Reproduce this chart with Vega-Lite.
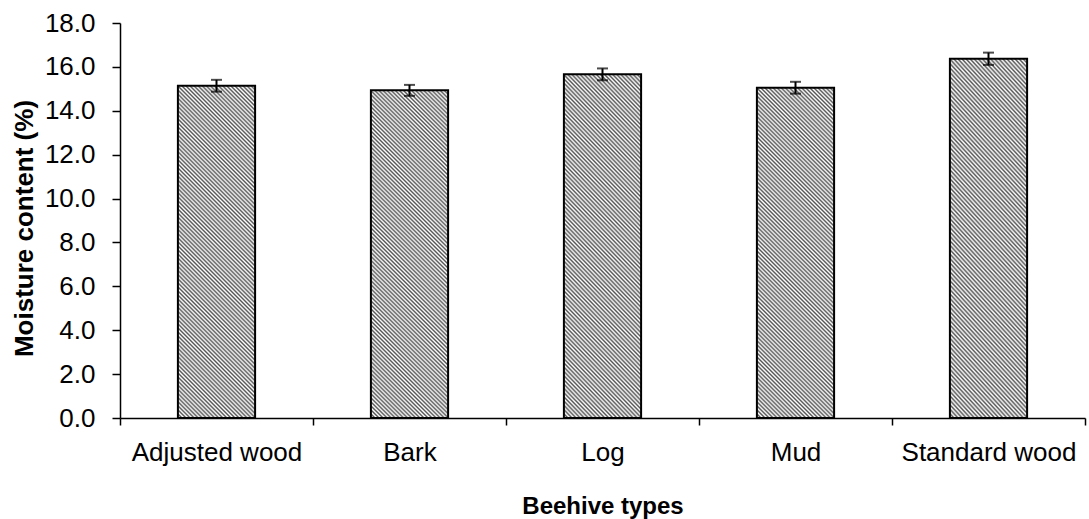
{
  "$schema": "https://vega.github.io/schema/vega-lite/v6.json",
  "width": 965,
  "height": 395,
  "autosize": "none",
  "padding": {"left": 120, "top": 23, "right": 4, "bottom": 101},
  "background": "white",
  "config": {
    "view": {"stroke": null},
    "font": "Liberation Sans",
    "axis": {
      "domainColor": "black",
      "tickColor": "black",
      "labelColor": "black",
      "titleColor": "black",
      "domainWidth": 1.5,
      "tickWidth": 1.5,
      "labelFont": "Liberation Sans",
      "titleFont": "Liberation Sans",
      "grid": false
    }
  },
  "data": {
    "values": [
      {"type": "Adjusted wood", "value": 15.14, "err": 0.27},
      {"type": "Bark", "value": 14.93, "err": 0.25},
      {"type": "Log", "value": 15.66, "err": 0.27},
      {"type": "Mud", "value": 15.05, "err": 0.27},
      {"type": "Standard wood", "value": 16.37, "err": 0.28}
    ]
  },
  "encoding": {
    "x": {
      "field": "type",
      "type": "nominal",
      "sort": null,
      "scale": {"paddingInner": 0, "paddingOuter": 0},
      "axis": {
        "title": "Beehive types",
        "labelAngle": 0,
        "tickBand": "extent",
        "tickSize": 7,
        "labelPadding": 35,
        "labelBaseline": "alphabetic",
        "labelFontSize": 26,
        "titleFontSize": 24,
        "titleFontWeight": "bold",
        "titleBaseline": "alphabetic",
        "titleY": 95
      }
    },
    "y": {
      "field": "value",
      "type": "quantitative",
      "scale": {"domain": [0, 18]},
      "axis": {
        "title": "Moisture content (%)",
        "values": [0, 2, 4, 6, 8, 10, 12, 14, 16, 18],
        "format": ".1f",
        "tickSize": 8,
        "labelPadding": 17,
        "labelFontSize": 26,
        "titleFontSize": 26,
        "titleFontWeight": "bold",
        "titleBaseline": "alphabetic",
        "titleX": -88,
        "titleY": 205
      }
    }
  },
  "layer": [
    {
      "mark": {
        "type": "bar",
        "width": {"band": 0.4},
        "stroke": "black",
        "strokeWidth": 2,
        "fill": {
          "gradient": "linear",
          "x1": 0, "y1": 1, "x2": 0.273, "y2": -0.17,
          "stops": [
{"offset":0,"color":"#555"},{"offset":0.005,"color":"#fff"},{"offset":0.01,"color":"#555"},{"offset":0.015,"color":"#fff"},{"offset":0.02,"color":"#555"},{"offset":0.025,"color":"#fff"},{"offset":0.03,"color":"#555"},{"offset":0.035,"color":"#fff"},{"offset":0.04,"color":"#555"},{"offset":0.045,"color":"#fff"},
{"offset":0.05,"color":"#555"},{"offset":0.055,"color":"#fff"},{"offset":0.06,"color":"#555"},{"offset":0.065,"color":"#fff"},{"offset":0.07,"color":"#555"},{"offset":0.075,"color":"#fff"},{"offset":0.08,"color":"#555"},{"offset":0.085,"color":"#fff"},{"offset":0.09,"color":"#555"},{"offset":0.095,"color":"#fff"},
{"offset":0.1,"color":"#555"},{"offset":0.105,"color":"#fff"},{"offset":0.11,"color":"#555"},{"offset":0.115,"color":"#fff"},{"offset":0.12,"color":"#555"},{"offset":0.125,"color":"#fff"},{"offset":0.13,"color":"#555"},{"offset":0.135,"color":"#fff"},{"offset":0.14,"color":"#555"},{"offset":0.145,"color":"#fff"},
{"offset":0.15,"color":"#555"},{"offset":0.155,"color":"#fff"},{"offset":0.16,"color":"#555"},{"offset":0.165,"color":"#fff"},{"offset":0.17,"color":"#555"},{"offset":0.175,"color":"#fff"},{"offset":0.18,"color":"#555"},{"offset":0.185,"color":"#fff"},{"offset":0.19,"color":"#555"},{"offset":0.195,"color":"#fff"},
{"offset":0.2,"color":"#555"},{"offset":0.205,"color":"#fff"},{"offset":0.21,"color":"#555"},{"offset":0.215,"color":"#fff"},{"offset":0.22,"color":"#555"},{"offset":0.225,"color":"#fff"},{"offset":0.23,"color":"#555"},{"offset":0.235,"color":"#fff"},{"offset":0.24,"color":"#555"},{"offset":0.245,"color":"#fff"},
{"offset":0.25,"color":"#555"},{"offset":0.255,"color":"#fff"},{"offset":0.26,"color":"#555"},{"offset":0.265,"color":"#fff"},{"offset":0.27,"color":"#555"},{"offset":0.275,"color":"#fff"},{"offset":0.28,"color":"#555"},{"offset":0.285,"color":"#fff"},{"offset":0.29,"color":"#555"},{"offset":0.295,"color":"#fff"},
{"offset":0.3,"color":"#555"},{"offset":0.305,"color":"#fff"},{"offset":0.31,"color":"#555"},{"offset":0.315,"color":"#fff"},{"offset":0.32,"color":"#555"},{"offset":0.325,"color":"#fff"},{"offset":0.33,"color":"#555"},{"offset":0.335,"color":"#fff"},{"offset":0.34,"color":"#555"},{"offset":0.345,"color":"#fff"},
{"offset":0.35,"color":"#555"},{"offset":0.355,"color":"#fff"},{"offset":0.36,"color":"#555"},{"offset":0.365,"color":"#fff"},{"offset":0.37,"color":"#555"},{"offset":0.375,"color":"#fff"},{"offset":0.38,"color":"#555"},{"offset":0.385,"color":"#fff"},{"offset":0.39,"color":"#555"},{"offset":0.395,"color":"#fff"},
{"offset":0.4,"color":"#555"},{"offset":0.405,"color":"#fff"},{"offset":0.41,"color":"#555"},{"offset":0.415,"color":"#fff"},{"offset":0.42,"color":"#555"},{"offset":0.425,"color":"#fff"},{"offset":0.43,"color":"#555"},{"offset":0.435,"color":"#fff"},{"offset":0.44,"color":"#555"},{"offset":0.445,"color":"#fff"},
{"offset":0.45,"color":"#555"},{"offset":0.455,"color":"#fff"},{"offset":0.46,"color":"#555"},{"offset":0.465,"color":"#fff"},{"offset":0.47,"color":"#555"},{"offset":0.475,"color":"#fff"},{"offset":0.48,"color":"#555"},{"offset":0.485,"color":"#fff"},{"offset":0.49,"color":"#555"},{"offset":0.495,"color":"#fff"},
{"offset":0.5,"color":"#555"},{"offset":0.505,"color":"#fff"},{"offset":0.51,"color":"#555"},{"offset":0.515,"color":"#fff"},{"offset":0.52,"color":"#555"},{"offset":0.525,"color":"#fff"},{"offset":0.53,"color":"#555"},{"offset":0.535,"color":"#fff"},{"offset":0.54,"color":"#555"},{"offset":0.545,"color":"#fff"},
{"offset":0.55,"color":"#555"},{"offset":0.555,"color":"#fff"},{"offset":0.56,"color":"#555"},{"offset":0.565,"color":"#fff"},{"offset":0.57,"color":"#555"},{"offset":0.575,"color":"#fff"},{"offset":0.58,"color":"#555"},{"offset":0.585,"color":"#fff"},{"offset":0.59,"color":"#555"},{"offset":0.595,"color":"#fff"},
{"offset":0.6,"color":"#555"},{"offset":0.605,"color":"#fff"},{"offset":0.61,"color":"#555"},{"offset":0.615,"color":"#fff"},{"offset":0.62,"color":"#555"},{"offset":0.625,"color":"#fff"},{"offset":0.63,"color":"#555"},{"offset":0.635,"color":"#fff"},{"offset":0.64,"color":"#555"},{"offset":0.645,"color":"#fff"},
{"offset":0.65,"color":"#555"},{"offset":0.655,"color":"#fff"},{"offset":0.66,"color":"#555"},{"offset":0.665,"color":"#fff"},{"offset":0.67,"color":"#555"},{"offset":0.675,"color":"#fff"},{"offset":0.68,"color":"#555"},{"offset":0.685,"color":"#fff"},{"offset":0.69,"color":"#555"},{"offset":0.695,"color":"#fff"},
{"offset":0.7,"color":"#555"},{"offset":0.705,"color":"#fff"},{"offset":0.71,"color":"#555"},{"offset":0.715,"color":"#fff"},{"offset":0.72,"color":"#555"},{"offset":0.725,"color":"#fff"},{"offset":0.73,"color":"#555"},{"offset":0.735,"color":"#fff"},{"offset":0.74,"color":"#555"},{"offset":0.745,"color":"#fff"},
{"offset":0.75,"color":"#555"},{"offset":0.755,"color":"#fff"},{"offset":0.76,"color":"#555"},{"offset":0.765,"color":"#fff"},{"offset":0.77,"color":"#555"},{"offset":0.775,"color":"#fff"},{"offset":0.78,"color":"#555"},{"offset":0.785,"color":"#fff"},{"offset":0.79,"color":"#555"},{"offset":0.795,"color":"#fff"},
{"offset":0.8,"color":"#555"},{"offset":0.805,"color":"#fff"},{"offset":0.81,"color":"#555"},{"offset":0.815,"color":"#fff"},{"offset":0.82,"color":"#555"},{"offset":0.825,"color":"#fff"},{"offset":0.83,"color":"#555"},{"offset":0.835,"color":"#fff"},{"offset":0.84,"color":"#555"},{"offset":0.845,"color":"#fff"},
{"offset":0.85,"color":"#555"},{"offset":0.855,"color":"#fff"},{"offset":0.86,"color":"#555"},{"offset":0.865,"color":"#fff"},{"offset":0.87,"color":"#555"},{"offset":0.875,"color":"#fff"},{"offset":0.88,"color":"#555"},{"offset":0.885,"color":"#fff"},{"offset":0.89,"color":"#555"},{"offset":0.895,"color":"#fff"},
{"offset":0.9,"color":"#555"},{"offset":0.905,"color":"#fff"},{"offset":0.91,"color":"#555"},{"offset":0.915,"color":"#fff"},{"offset":0.92,"color":"#555"},{"offset":0.925,"color":"#fff"},{"offset":0.93,"color":"#555"},{"offset":0.935,"color":"#fff"},{"offset":0.94,"color":"#555"},{"offset":0.945,"color":"#fff"},
{"offset":0.95,"color":"#555"},{"offset":0.955,"color":"#fff"},{"offset":0.96,"color":"#555"},{"offset":0.965,"color":"#fff"},{"offset":0.97,"color":"#555"},{"offset":0.975,"color":"#fff"},{"offset":0.98,"color":"#555"},{"offset":0.985,"color":"#fff"},{"offset":0.99,"color":"#555"},{"offset":0.995,"color":"#fff"},
{"offset":1,"color":"#555"}
          ]
        }
      }
    },
    {
      "mark": {
        "type": "errorbar",
        "color": "black",
        "thickness": 2,
        "ticks": {"size": 11, "thickness": 2, "color": "black"}
      },
      "encoding": {
        "y": {"field": "value", "type": "quantitative"},
        "yError": {"field": "err"}
      }
    }
  ]
}
